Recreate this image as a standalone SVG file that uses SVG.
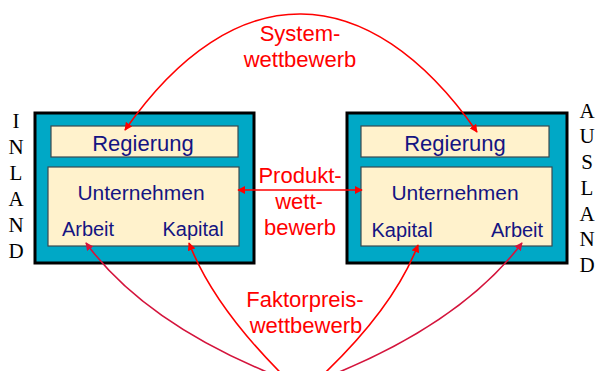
<svg xmlns="http://www.w3.org/2000/svg" width="595" height="371" viewBox="0 0 595 371">
<style>
.outer{fill:#00A8C6;stroke:#000;stroke-width:3}
.inner{fill:#FFF2CC;stroke:#3a4a50;stroke-width:1.2}
.lbl{font-family:"Liberation Sans",Arial,sans-serif;fill:#141482;text-anchor:middle}
.red{font-family:"Liberation Sans",Arial,sans-serif;fill:#FF0000;font-size:22px;text-anchor:middle}
.country{font-family:"Liberation Serif","Times New Roman",serif;font-size:21px;fill:#000;text-anchor:middle}
.con{fill:none;stroke-width:1.6}
</style>
<defs>
<marker id="ar" viewBox="0 0 10 10" refX="9" refY="5" markerWidth="8" markerHeight="8" markerUnits="userSpaceOnUse" orient="auto-start-reverse">
<path d="M0,0 L10,5 L0,10 z" fill="#FF0000"/>
</marker>
<marker id="ac" viewBox="0 0 10 10" refX="9" refY="5" markerWidth="8" markerHeight="8" markerUnits="userSpaceOnUse" orient="auto-start-reverse">
<path d="M0,0 L10,5 L0,10 z" fill="#D4143C"/>
</marker>
</defs>
<g id="inland">
<rect class="outer" x="35" y="113" width="219" height="150"/>
<text class="country" x="16" y="128">I</text>
<text class="country" x="16" y="154">N</text>
<text class="country" x="16" y="180">L</text>
<text class="country" x="16" y="206">A</text>
<text class="country" x="16" y="232">N</text>
<text class="country" x="16" y="258">D</text>
</g>
<g id="inland-regierung">
<rect class="inner" x="51" y="126" width="187" height="31"/>
<text class="lbl" x="143" y="151" font-size="22">Regierung</text>
</g>
<g id="inland-unternehmen">
<rect class="inner" x="48" y="167" width="191" height="79"/>
<text class="lbl" x="141" y="200" font-size="21">Unternehmen</text>
<text class="lbl" x="88" y="236" font-size="20">Arbeit</text>
<text class="lbl" x="193" y="236" font-size="20">Kapital</text>
</g>
<g id="ausland">
<rect class="outer" x="347" y="113" width="220" height="150"/>
<text class="country" x="587" y="118">A</text>
<text class="country" x="587" y="143">U</text>
<text class="country" x="587" y="169">S</text>
<text class="country" x="587" y="195">L</text>
<text class="country" x="587" y="221">A</text>
<text class="country" x="587" y="246">N</text>
<text class="country" x="587" y="272">D</text>
</g>
<g id="ausland-regierung">
<rect class="inner" x="361" y="126" width="188" height="31"/>
<text class="lbl" x="455" y="151" font-size="22">Regierung</text>
</g>
<g id="ausland-unternehmen">
<rect class="inner" x="361" y="167" width="191" height="79"/>
<text class="lbl" x="455" y="200" font-size="21">Unternehmen</text>
<text class="lbl" x="402" y="237" font-size="20">Kapital</text>
<text class="lbl" x="517" y="237" font-size="20">Arbeit</text>
</g>
<g id="connectors">
<path class="con" stroke="#FF0000" d="M125,130 C234,-26 368,-24 477,132" marker-start="url(#ar)" marker-end="url(#ar)"/>
<path class="con" stroke="#FF0000" d="M238,190 L362,190" marker-start="url(#ar)" marker-end="url(#ar)"/>
<path class="con" stroke="#D4143C" d="M300,385 Q150,330 86,243" marker-end="url(#ac)"/>
<path class="con" stroke="#FF0000" d="M293,385 Q215,310 189,243" marker-end="url(#ar)"/>
<path class="con" stroke="#FF0000" d="M312,385 Q392,312 418,245" marker-end="url(#ar)"/>
<path class="con" stroke="#D4143C" d="M306,385 Q456,330 522,243" marker-end="url(#ac)"/>
</g>
<g id="labels">
<text class="red" x="300" y="41">System-</text>
<text class="red" x="300" y="67">wettbewerb</text>
<text class="red" x="300" y="183">Produkt-</text>
<text class="red" x="299" y="209">wett-</text>
<text class="red" x="300" y="235">bewerb</text>
<text class="red" x="305" y="307">Faktorpreis-</text>
<text class="red" x="306" y="333">wettbewerb</text>
</g>
</svg>
